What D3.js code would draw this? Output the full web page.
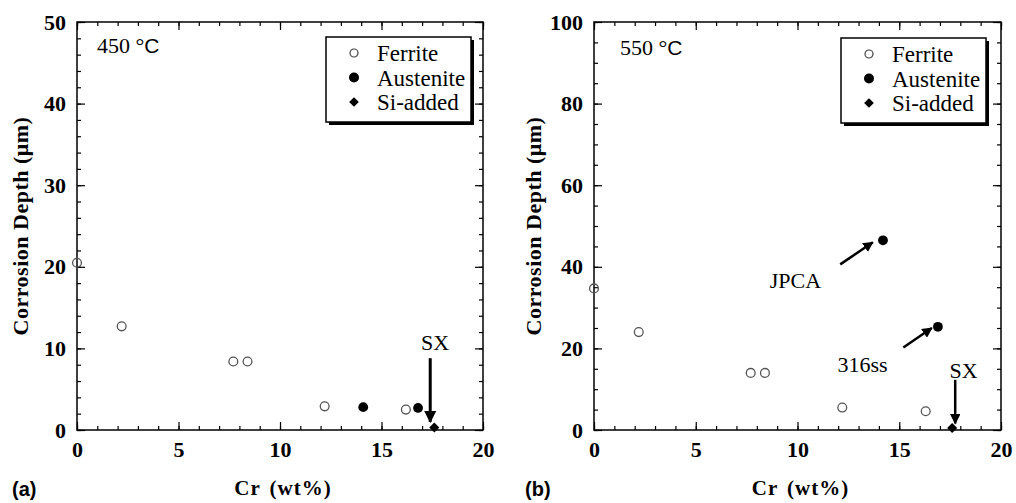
<!DOCTYPE html>
<html>
<head>
<meta charset="utf-8">
<title>Corrosion depth vs Cr</title>
<script src="https://cdn.jsdelivr.net/npm/d3@7"></script>
<style>
    body { margin: 0; background: #fff; }
    .tick line { stroke: #000; stroke-width: 1.2; }
    .domain { display: none; }
</style>
</head>
<body>
<script>
    var width = 1016, height = 503;

    // tick labels
    var crTicks = [0, 5, 10, 15, 20];
    var depthTicks450 = [0, 10, 20, 30, 40, 50];
    var depthTicks550 = [0, 20, 40, 60, 80, 100];

    // 450 C panel (a)
    var ferrite450Cr = [0, 2.2, 7.7, 8.4, 12.2, 16.2];
    var ferrite450Depth = [20.5, 12.7, 8.4, 8.4, 2.9, 2.5];
    var austenite450Cr = [14.1, 16.8];
    var austenite450Depth = [2.8, 2.7];
    var siAdded450Cr = [17.6];
    var siAdded450Depth = [0.3];

    // 550 C panel (b)
    var ferrite550Cr = [0, 2.2, 7.7, 8.4, 12.2, 16.3];
    var ferrite550Depth = [34.7, 24.0, 14.0, 14.0, 5.5, 4.6];
    var austenite550Cr = [14.2, 16.9];
    var austenite550Depth = [46.5, 25.3];
    var siAdded550Cr = [17.6];
    var siAdded550Depth = [0.5];

    var legendLabels = ["Ferrite", "Austenite", "Si-added"];

    var serif = "Liberation Serif";
    var sans = "Liberation Sans";

    var svg = d3.select("body").append("svg")
        .attr("width", width)
        .attr("height", height);

    svg.append("defs").append("marker")
        .attr("id", "head")
        .attr("viewBox", "0 0 10 10")
        .attr("refX", 9).attr("refY", 5)
        .attr("markerWidth", 4.2).attr("markerHeight", 4.2)
        .attr("markerUnits", "strokeWidth")
        .attr("orient", "auto")
      .append("path")
        .attr("d", "M0,0L10,5L0,10Z")
        .attr("fill", "#000");

    function pairs(xs, ys) {
        return xs.map(function (d, i) { return { x: d, y: ys[i] }; });
    }

    var panels = [
        {
            left: 77, right: 483, top: 22, bottom: 430,
            yMax: 50, yTicks: depthTicks450, yMinor: 2,
            ferrite: pairs(ferrite450Cr, ferrite450Depth),
            austenite: pairs(austenite450Cr, austenite450Depth),
            siAdded: pairs(siAdded450Cr, siAdded450Depth),
            temp: "450 \u00b0", tempX: 97, tempY: 53,
            legendX: 326, legendY: 37,
            tag: "(a)", tagX: 12, titleX: 20,
            notes: [
                { text: "SX", tx: 17.64, ty: 10.8, x1: 17.4, y1: 8.8, x2: 17.4, y2: 1.0, w: 3 }
            ]
        },
        {
            left: 594, right: 1001, top: 22, bottom: 430,
            yMax: 100, yTicks: depthTicks550, yMinor: 5,
            ferrite: pairs(ferrite550Cr, ferrite550Depth),
            austenite: pairs(austenite550Cr, austenite550Depth),
            siAdded: pairs(siAdded550Cr, siAdded550Depth),
            temp: "550 \u00b0", tempX: 620, tempY: 55,
            legendX: 841, legendY: 38,
            tag: "(b)", tagX: 525, titleX: 533,
            notes: [
                { text: "JPCA", tx: 9.9, ty: 36.8, x1: 12.1, y1: 40.6, x2: 13.7, y2: 46.0, w: 2.5 },
                { text: "316ss", tx: 13.2, ty: 16.2, x1: 15.2, y1: 20.2, x2: 16.6, y2: 25.0, w: 2.5 },
                { text: "SX", tx: 18.16, ty: 14.7, x1: 17.75, y1: 12.3, x2: 17.75, y2: 1.6, w: 2.5 }
            ]
        }
    ];

    panels.forEach(drawPanel);

    function drawPanel(p) {
        var g = svg.append("g");
        var x = d3.scaleLinear().domain([0, 20]).range([p.left, p.right]);
        var y = d3.scaleLinear().domain([0, p.yMax]).range([p.bottom, p.top]);

        var xMinor = d3.range(0, 21, 1);
        var yMinor = d3.range(0, p.yMax + 0.01, p.yMinor);

        // minor ticks on all four sides, pointing in
        g.append("g").attr("transform", "translate(0," + p.bottom + ")")
            .call(d3.axisBottom(x).tickValues(xMinor).tickSize(-4).tickFormat(""));
        g.append("g").attr("transform", "translate(0," + p.top + ")")
            .call(d3.axisTop(x).tickValues(xMinor).tickSize(-4).tickFormat(""));
        g.append("g").attr("transform", "translate(" + p.left + ",0)")
            .call(d3.axisLeft(y).tickValues(yMinor).tickSize(-4).tickFormat(""));
        g.append("g").attr("transform", "translate(" + p.right + ",0)")
            .call(d3.axisRight(y).tickValues(yMinor).tickSize(-4).tickFormat(""));

        // major ticks
        var xAxis = g.append("g").attr("transform", "translate(0," + p.bottom + ")")
            .call(d3.axisBottom(x).tickValues(crTicks).tickSize(-8).tickPadding(11));
        g.append("g").attr("transform", "translate(0," + p.top + ")")
            .call(d3.axisTop(x).tickValues(crTicks).tickSize(-8).tickFormat(""));
        var yAxis = g.append("g").attr("transform", "translate(" + p.left + ",0)")
            .call(d3.axisLeft(y).tickValues(p.yTicks).tickSize(-8).tickPadding(11));
        g.append("g").attr("transform", "translate(" + p.right + ",0)")
            .call(d3.axisRight(y).tickValues(p.yTicks).tickSize(-8).tickFormat(""));

        [xAxis, yAxis].forEach(function (a) {
            a.attr("font-family", serif);
            a.selectAll("text")
                .attr("font-family", serif)
                .attr("font-weight", "bold")
                .attr("font-size", 22)
                .attr("fill", "#000");
        });

        // frame
        g.append("rect")
            .attr("x", p.left).attr("y", p.top)
            .attr("width", p.right - p.left).attr("height", p.bottom - p.top)
            .attr("fill", "none").attr("stroke", "#000").attr("stroke-width", 1.5);

        // axis titles
        g.append("text")
            .attr("transform", "translate(" + p.titleX + "," + ((p.top + p.bottom) / 2) + ") rotate(-90)")
            .attr("text-anchor", "middle").attr("dy", "0.35em")
            .attr("font-family", serif).attr("font-weight", "bold").attr("font-size", 22)
            .attr("letter-spacing", 0.5)
            .text("Corrosion Depth (\u03bcm)");

        g.append("text")
            .attr("x", (p.left + p.right) / 2 + 3).attr("y", 495)
            .attr("text-anchor", "middle")
            .attr("font-family", serif).attr("font-weight", "bold").attr("font-size", 21)
            .attr("word-spacing", 3).attr("letter-spacing", 1)
            .text("Cr (wt%)");

        g.append("text")
            .attr("x", p.tagX).attr("y", 496)
            .attr("font-family", sans).attr("font-weight", "bold").attr("font-size", 20)
            .text(p.tag);

        var t = g.append("text")
            .attr("x", p.tempX).attr("y", p.tempY)
            .attr("font-family", serif).attr("font-size", 22);
        t.append("tspan").text(p.temp);
        t.append("tspan").attr("font-family", sans).attr("font-size", 21).text("C");

        // annotations
        p.notes.forEach(function (n) {
            g.append("line")
                .attr("x1", x(n.x1)).attr("y1", y(n.y1))
                .attr("x2", x(n.x2)).attr("y2", y(n.y2))
                .attr("stroke", "#000").attr("stroke-width", n.w)
                .attr("marker-end", "url(#head)");
            g.append("text")
                .attr("x", x(n.tx)).attr("y", y(n.ty))
                .attr("dy", "0.35em").attr("text-anchor", "middle")
                .attr("font-family", serif).attr("font-size", 22)
                .text(n.text);
        });

        // points
        g.selectAll("circle.ferrite").data(p.ferrite).enter().append("circle")
            .attr("class", "ferrite")
            .attr("cx", function (d) { return x(d.x); })
            .attr("cy", function (d) { return y(d.y); })
            .attr("r", 4.4)
            .attr("fill", "none").attr("stroke", "#555").attr("stroke-width", 1.3);

        g.selectAll("circle.austenite").data(p.austenite).enter().append("circle")
            .attr("class", "austenite")
            .attr("cx", function (d) { return x(d.x); })
            .attr("cy", function (d) { return y(d.y); })
            .attr("r", 4.9)
            .attr("fill", "#000");

        g.selectAll("path.si").data(p.siAdded).enter().append("path")
            .attr("class", "si")
            .attr("transform", function (d) { return "translate(" + x(d.x) + "," + y(d.y) + ")"; })
            .attr("d", d3.symbol().type(d3.symbolDiamond2).size(65))
            .attr("fill", "#000");

        // legend
        var lg = g.append("g").attr("transform", "translate(" + p.legendX + "," + p.legendY + ")");
        lg.append("rect").attr("x", 3).attr("y", 3).attr("width", 145).attr("height", 85).attr("fill", "#000");
        lg.append("rect").attr("width", 145).attr("height", 85)
            .attr("fill", "#fff").attr("stroke", "#000").attr("stroke-width", 1.5);

        var rows = lg.selectAll("g.row").data(legendLabels).enter().append("g")
            .attr("transform", function (d, i) { return "translate(0," + (16 + i * 24.5) + ")"; });
        rows.append("text")
            .attr("x", 51).attr("dy", "0.35em")
            .attr("font-family", serif).attr("font-size", 23)
            .text(function (d) { return d; });
        rows.each(function (d, i) {
            var r = d3.select(this);
            if (i === 0) {
                r.append("circle").attr("cx", 28).attr("r", 4)
                    .attr("fill", "none").attr("stroke", "#444").attr("stroke-width", 1.2);
            } else if (i === 1) {
                r.append("circle").attr("cx", 28).attr("r", 5).attr("fill", "#000");
            } else {
                r.append("path").attr("transform", "translate(28,0)")
                    .attr("d", d3.symbol().type(d3.symbolDiamond2).size(60))
                    .attr("fill", "#000");
            }
        });
    }
</script>
</body>
</html>
